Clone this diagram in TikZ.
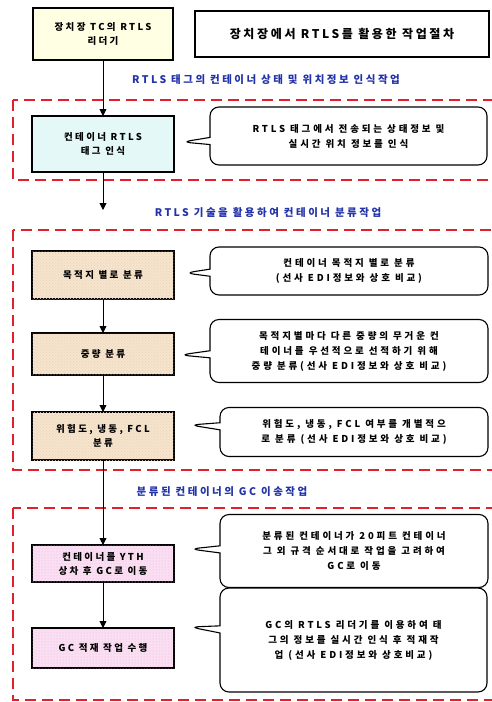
\documentclass[tikz,border=0pt]{standalone}
\usepackage{fontspec}
\setmainfont{Noto Sans CJK KR}
\usetikzlibrary{arrows.meta,shapes.callouts,patterns}
\definecolor{zonered}{HTML}{E0202A}
\definecolor{headblue}{HTML}{2232A8}
\definecolor{yelfill}{HTML}{FFFFE4}
\definecolor{cyanfill}{HTML}{E4F8F8}
\definecolor{tanfill}{HTML}{F6E4CC}
\definecolor{pinkfill}{HTML}{F8E0F0}
\newcommand{\boxfont}{\bfseries\fontsize{9.5}{14}\selectfont\addfontfeatures{LetterSpace=25}}
\newcommand{\notefont}{\bfseries\fontsize{9.5}{15}\selectfont\addfontfeatures{LetterSpace=30}}
\newcommand{\headfont}{\bfseries\fontsize{10.5}{12}\selectfont\addfontfeatures{LetterSpace=24}}
\newcommand{\titlefont}{\bfseries\fontsize{12}{14}\selectfont\addfontfeatures{LetterSpace=22}}
\tikzset{
  stepbox/.style={draw=black, line width=1.3pt, minimum width=142pt, align=center,
    font=\boxfont, inner sep=2pt, outer sep=0pt},
  tanbox/.style={stepbox, fill=tanfill, postaction={pattern=crosshatch dots, pattern color=brown!35}},
  pinkbox/.style={stepbox, fill=pinkfill, postaction={pattern=dots, pattern color=magenta!35}},
  note/.style={rectangle callout, draw=black, line width=1.1pt, rounded corners=9pt, fill=white,
    align=center, font=\notefont, inner sep=2pt, outer sep=0pt},
  heading/.style={text=headblue, font=\headfont},
  zone/.style={draw=zonered, line width=2.2pt, dash pattern=on 11pt off 6pt},
  flow/.style={-{Triangle[length=7pt,width=7pt]}, line width=0.9pt}
}
\begin{document}
\begin{tikzpicture}[x=1pt,y=-1pt]
\useasboundingbox (0,0) rectangle (491,702);
\fill[white] (0,0) rectangle (491,702);
% zones
\draw[zone] (13,100) rectangle (505,180);
\draw[zone] (13,230) rectangle (505,470);
\draw[zone] (13,508) rectangle (505,700);
% top
\node[stepbox, fill=yelfill, minimum width=140pt, minimum height=52pt] (b0) at (103,34) {장치장 TC의 RTLS\\리더기};
\node[draw=black, line width=1.1pt, minimum width=294pt, minimum height=46pt, outer sep=0pt,
      font=\titlefont] (title) at (342,34) {장치장에서 RTLS를 활용한 작업절차};
% headings
\node[heading] (h1) at (266,80) {RTLS 태그의 컨테이너 상태 및 위치정보 인식작업};
\node[heading] (h2) at (268,213) {RTLS 기술을 활용하여 컨테이너 분류작업};
\node[heading] (h3) at (222,492) {분류된 컨테이너의 GC 이송작업};
% steps
\node[stepbox, fill=cyanfill, minimum height=56pt] (b1) at (103,144) {컨테이너 RTLS\\태그 인식};
\node[tanbox, minimum height=48pt] (b2) at (103,275) {목적지 별로 분류};
\node[tanbox, minimum height=42pt] (b3) at (103,354) {중량 분류};
\node[tanbox, minimum height=48pt] (b4) at (103,436) {위험도, 냉동, FCL\\분류};
\node[pinkbox, minimum height=37pt] (b5) at (103,563.5) {컨테이너를 YTH\\상차 후 GC로 이동};
\node[pinkbox, minimum height=40pt] (b6) at (103,648) {GC 적재 작업 수행};
% callouts
\node[note, minimum width=277pt, minimum height=58pt, callout absolute pointer={(182,142)}] (c1) at (348.5,136)
  {RTLS 태그에서 전송되는 상태정보 및\\실시간 위치 정보를 인식};
\node[note, minimum width=278pt, minimum height=48pt, callout absolute pointer={(185,273)}] (c2) at (349,271)
  {컨테이너 목적지 별로 분류\\(선사 EDI정보와 상호 비교)};
\node[note, minimum width=278pt, minimum height=63pt, callout absolute pointer={(180,355)}] (c3) at (349,351)
  {목적지별마다 다른 중량의 무거운 컨\\테이너를 우선적으로 선적하기 위해\\중량 분류(선사 EDI정보와 상호 비교)};
\node[note, minimum width=268pt, minimum height=49pt, callout absolute pointer={(190,425)}] (c4) at (354,432)
  {위험도, 냉동, FCL 여부를 개별적으\\로 분류 (선사 EDI정보와 상호 비교)};
\node[note, minimum width=268pt, minimum height=73pt, callout absolute pointer={(190,549)}] (c5) at (354,551)
  {분류된 컨테이너가 20피트 컨테이너\\그 외 규격 순서대로 작업을 고려하여\\GC로 이동};
\node[note, minimum width=267pt, minimum height=104pt, callout absolute pointer={(190,627)}] (c6) at (353.5,640)
  {GC의 RTLS 리더기를 이용하여 태\\그의 정보를 실시간 인식 후 적재작\\업 (선사 EDI정보와 상호비교)};
% connectors
\coordinate (e1) at (103,210);
\draw[flow] (b0.south) -- (b1.north);
\draw[flow] (b1.south) -- (e1);
\draw[flow] (b2.south) -- (b3.north);
\draw[flow] (b3.south) -- (b4.north);
\draw[flow] (b4.south) -- (b5.north);
\draw[flow] (b5.south) -- (b6.north);
\end{tikzpicture}
\end{document}
